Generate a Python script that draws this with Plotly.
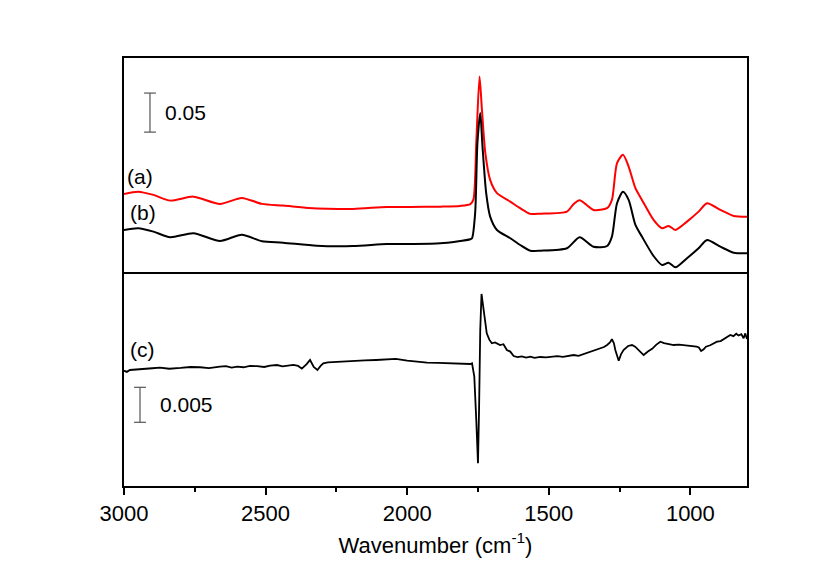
import plotly.graph_objects as go

# spectra (a) and (b): wavenumber (cm-1) vs absorbance
wn_a = [3000, 2950, 2896, 2837, 2755, 2661, 2584, 2513, 2438, 2319, 2191, 2072, 1990,
        1883, 1813, 1777, 1766, 1756, 1744.5, 1736, 1724, 1707, 1683, 1636, 1601, 1565,
        1530, 1436, 1412, 1391, 1371, 1342, 1294, 1277, 1259, 1238, 1218, 1194, 1171,
        1130, 1100, 1077, 1053, 1012, 971, 941, 894, 847, 800]
abs_a = [0.1000, 0.1029, 0.0987, 0.0914, 0.0965, 0.0872, 0.0949, 0.0872, 0.0850, 0.0812,
         0.0808, 0.0833, 0.0833, 0.0837, 0.0846, 0.0870, 0.0930, 0.1654, 0.2504, 0.2077,
         0.1522, 0.1179, 0.1009, 0.0901, 0.0817, 0.0744, 0.0747, 0.0773, 0.0872, 0.0919,
         0.0872, 0.0795, 0.0817, 0.0923, 0.1394, 0.1500, 0.1350, 0.1073, 0.0923, 0.0667,
         0.0560, 0.0590, 0.0538, 0.0645, 0.0773, 0.0881, 0.0795, 0.0718, 0.0709]

wn_b = [3000, 2950, 2896, 2837, 2755, 2661, 2584, 2513, 2438, 2319, 2191, 2072, 1990,
        1883, 1777, 1771, 1760, 1752, 1742, 1734, 1721, 1707, 1683, 1636, 1601, 1565,
        1530, 1436, 1391, 1342, 1294, 1277, 1259, 1238, 1218, 1194, 1171, 1130, 1100,
        1077, 1053, 1012, 971, 941, 894, 847, 800]
abs_b = [0.0538, 0.0560, 0.0517, 0.0445, 0.0496, 0.0397, 0.0478, 0.0394, 0.0376, 0.0337,
         0.0333, 0.0359, 0.0359, 0.0368, 0.0419, 0.0432, 0.0753, 0.1650, 0.2035, 0.1606,
         0.1009, 0.0709, 0.0538, 0.0432, 0.0346, 0.0273, 0.0273, 0.0304, 0.0445, 0.0324,
         0.0333, 0.0453, 0.0881, 0.1026, 0.0923, 0.0603, 0.0453, 0.0205, 0.0090, 0.0119,
         0.0060, 0.0176, 0.0304, 0.0410, 0.0324, 0.0247, 0.0240]

# difference spectrum (c)
wn_c = [3000, 2990, 2979, 2955, 2930, 2900, 2873, 2840, 2800, 2765, 2731, 2700, 2661,
        2640, 2620, 2600, 2578, 2555, 2530, 2505, 2484, 2460, 2440, 2420, 2402, 2385,
        2372, 2355, 2343, 2330, 2317, 2305, 2296, 2280, 2260, 2240, 2225, 2190, 2150,
        2110, 2072, 2040, 2000, 1965, 1930, 1890, 1848, 1820, 1800, 1777, 1771, 1763,
        1756, 1750, 1746, 1742, 1737.5, 1730.5, 1719, 1710, 1701, 1690, 1672, 1660,
        1648, 1636, 1624, 1610, 1595, 1580, 1565, 1550, 1530, 1510, 1490, 1470, 1450,
        1430, 1412, 1395, 1380, 1365, 1353, 1335, 1320, 1305, 1294, 1284, 1277, 1270,
        1265, 1258, 1253, 1245, 1236, 1220, 1206, 1195, 1185, 1175, 1165, 1150, 1135,
        1120, 1106, 1093, 1080, 1070, 1059, 1040, 1020, 1005, 988, 978, 970, 962, 953,
        945, 930, 918, 906, 893, 880, 870, 859, 848, 838, 830, 820, 812, 806, 800]
abs_c = [0.01647, 0.01630, 0.01657, 0.01662, 0.01670, 0.01682, 0.01690, 0.01675, 0.01686,
         0.01700, 0.01696, 0.01685, 0.01704, 0.01712, 0.01690, 0.01705, 0.01696, 0.01715,
         0.01712, 0.01700, 0.01719, 0.01728, 0.01710, 0.01722, 0.01729, 0.01715, 0.01676,
         0.01740, 0.01800, 0.01700, 0.01657, 0.01720, 0.01753, 0.01765, 0.01770, 0.01780,
         0.01786, 0.01790, 0.01795, 0.01800, 0.01804, 0.01815, 0.01790, 0.01772, 0.01761,
         0.01758, 0.01753, 0.01742, 0.01745, 0.01743, 0.01753, 0.01561, 0.00943, 0.00324,
         0.01133, 0.02229, 0.02743, 0.02514, 0.02181, 0.02090, 0.02039, 0.02050, 0.02014,
         0.02025, 0.01943, 0.01920, 0.01857, 0.01840, 0.01852, 0.01835, 0.01848, 0.01830,
         0.01843, 0.01836, 0.01850, 0.01855, 0.01845, 0.01862, 0.01871, 0.01858, 0.01880,
         0.01895, 0.01919, 0.01935, 0.01960, 0.01985, 0.02014, 0.02050, 0.02096, 0.02040,
         0.01943, 0.01850, 0.01790, 0.01880, 0.01943, 0.02000, 0.02014, 0.01990, 0.01950,
         0.01910, 0.01871, 0.01920, 0.01960, 0.02020, 0.02061, 0.02040, 0.02030, 0.02020,
         0.02014, 0.02020, 0.02010, 0.02005, 0.02000, 0.01990, 0.01980, 0.01930, 0.01953,
         0.01990, 0.02010, 0.02030, 0.02061, 0.02070, 0.02100, 0.02120, 0.02157, 0.02140,
         0.02175, 0.02150, 0.02170, 0.02110, 0.02180, 0.02100, 0.02133]

bar_top = 0.05
bar_bottom = 0.005

font = "Arial, Liberation Sans, sans-serif"

fig = go.Figure()
fig.add_trace(go.Scatter(x=wn_a, y=abs_a, mode="lines", xaxis="x2", yaxis="y2",
                         line=dict(color="#ff0000", width=2, shape="spline", smoothing=0.7)))
fig.add_trace(go.Scatter(x=wn_b, y=abs_b, mode="lines", xaxis="x2", yaxis="y2",
                         line=dict(color="black", width=2, shape="spline", smoothing=0.7)))
fig.add_trace(go.Scatter(x=wn_c, y=abs_c, mode="lines", xaxis="x", yaxis="y",
                         line=dict(color="black", width=1.8)))

frame = dict(showline=True, linecolor="black", linewidth=1.5,
             showgrid=False, zeroline=False)

fig.update_layout(
    width=830, height=579,
    margin=dict(l=116, r=91, t=50, b=101),
    paper_bgcolor="white", plot_bgcolor="white",
    showlegend=False,
    font=dict(family=font, size=21, color="black"),
    xaxis=dict(range=[3000, 800], anchor="y", ticks="outside", ticklen=7, tickwidth=1.5,
               tickcolor="black", dtick=500, tick0=0, mirror=False,
               minor=dict(ticks="outside", ticklen=4, dtick=250, tickcolor="black"),
               title=dict(text="Wavenumber (cm<sup>-1</sup>)", standoff=12,
                          font=dict(size=22)),
               tickfont=dict(size=22), **frame),
    xaxis2=dict(range=[3000, 800], anchor="y2", matches="x", showticklabels=False,
                ticks="", mirror=True, **frame),
    yaxis=dict(domain=[0, 0.5], range=[0, 0.03057], showticklabels=False, ticks="",
               mirror=True, **frame),
    yaxis2=dict(domain=[0.5, 1], range=[0, 0.274], showticklabels=False, ticks="",
                mirror=True, **frame),
)

# scale bars
bar_col = "#555555"
for xr, yr, xc, y0, h in [("paper", "y2", 0.0417, 0.1791, bar_top),
                          ("paper", "y", 0.0257, 0.0091, bar_bottom)]:
    fig.add_shape(type="line", xref=xr, yref=yr, x0=xc, x1=xc, y0=y0, y1=y0 + h,
                  line=dict(color=bar_col, width=1.2))
    for yy in (y0, y0 + h):
        fig.add_shape(type="line", xref=xr, yref=yr, x0=xc - 0.0095, x1=xc + 0.0095,
                      y0=yy, y1=yy, line=dict(color=bar_col, width=1.2))

fig.add_annotation(text="0.05", xref="paper", yref="y2", x=0.063, y=0.1791 + bar_top / 2,
                   xanchor="left", showarrow=False, font=dict(size=21))
fig.add_annotation(text="0.005", xref="paper", yref="y", x=0.054, y=0.0091 + bar_bottom / 2,
                   xanchor="left", showarrow=False, font=dict(size=21))

# curve labels
fig.add_annotation(text="(a)", xref="paper", yref="y2", x=0.026, y=0.1218,
                   xanchor="center", showarrow=False, font=dict(size=21))
fig.add_annotation(text="(b)", xref="paper", yref="y2", x=0.030, y=0.0756,
                   xanchor="center", showarrow=False, font=dict(size=21))
fig.add_annotation(text="(c)", xref="paper", yref="y", x=0.029, y=0.0195,
                   xanchor="center", showarrow=False, font=dict(size=21))

fig.write_html("out.html")
